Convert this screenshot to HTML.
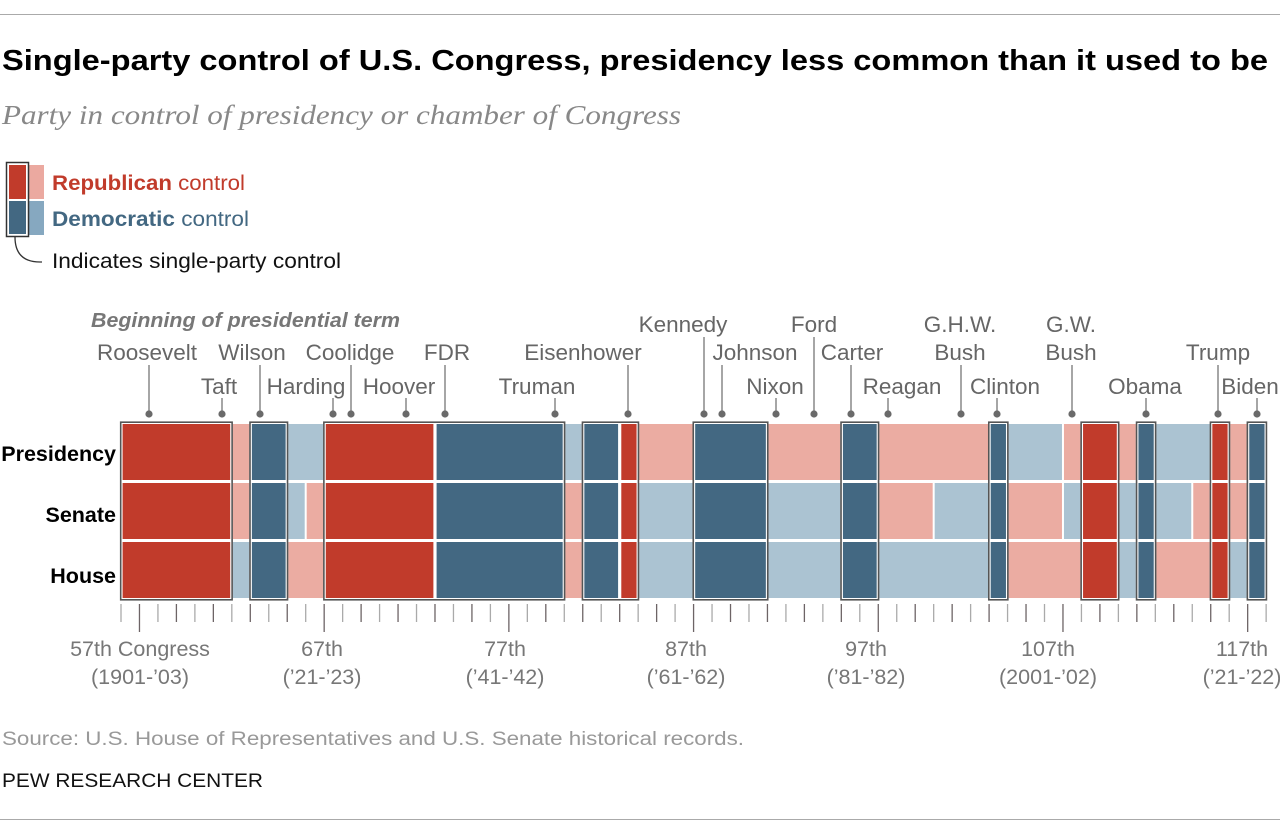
<!DOCTYPE html>
<html><head><meta charset="utf-8"><style>
html,body{margin:0;padding:0;background:#fff;}
svg{display:block;font-family:"Liberation Sans",sans-serif;}
</style></head><body>
<svg id="s" width="1280" height="834" viewBox="0 0 1280 834" xmlns="http://www.w3.org/2000/svg">
<line x1="0" y1="14.5" x2="1280" y2="14.5" stroke="#aaa" stroke-width="1"/>
<line x1="0" y1="819.5" x2="1280" y2="819.5" stroke="#aaa" stroke-width="1"/>
<text x="2" y="70" font-size="29" font-weight="bold" fill="#000" textLength="1266" lengthAdjust="spacingAndGlyphs">Single-party control of U.S. Congress, presidency less common than it used to be</text>
<text x="2" y="124" font-size="27" font-style="italic" fill="#888" font-family="Liberation Serif, serif" textLength="679" lengthAdjust="spacingAndGlyphs">Party in control of presidency or chamber of Congress</text>

<!-- legend -->
<rect x="9" y="165" width="17" height="34" fill="#c13b2b"/>
<rect x="28" y="165" width="16" height="34" fill="#eba9a0"/>
<rect x="9" y="201" width="17" height="33" fill="#436882"/>
<rect x="28" y="201" width="16" height="34" fill="#86a8c0"/>
<rect x="6.5" y="162.5" width="22" height="74" fill="none" stroke="#333" stroke-width="1.5"/>
<path d="M15 237 Q15 262 40 262 L42 262" fill="none" stroke="#333" stroke-width="1.3"/>
<text x="52" y="190" font-size="21" textLength="193" lengthAdjust="spacingAndGlyphs"><tspan font-weight="bold" fill="#c13b2b">Republican</tspan><tspan fill="#c13b2b"> control</tspan></text>
<text x="52" y="226" font-size="21" textLength="197" lengthAdjust="spacingAndGlyphs"><tspan font-weight="bold" fill="#436882">Democratic</tspan><tspan fill="#436882"> control</tspan></text>
<text x="52" y="268" font-size="21" fill="#111" textLength="289" lengthAdjust="spacingAndGlyphs">Indicates single-party control</text>

<text x="91" y="327" font-size="20" font-weight="bold" font-style="italic" fill="#777" textLength="309" lengthAdjust="spacingAndGlyphs">Beginning of presidential term</text>

<g id="rowlabels" font-size="21.5" font-weight="bold" fill="#000" text-anchor="end">
<text x="116" y="461">Presidency</text>
<text x="116" y="522">Senate</text>
<text x="116" y="583">House</text>
</g>

<g id="chart"></g>
<g id="pres" font-size="22.5" fill="#666" text-anchor="middle">
<text x="147" y="360">Roosevelt</text>
<text x="219" y="394">Taft</text>
<text x="252" y="360">Wilson</text>
<text x="306" y="394">Harding</text>
<text x="350" y="360">Coolidge</text>
<text x="399" y="394">Hoover</text>
<text x="447" y="360">FDR</text>
<text x="537" y="394">Truman</text>
<text x="583" y="360">Eisenhower</text>
<text x="683" y="332">Kennedy</text>
<text x="755" y="360">Johnson</text>
<text x="775" y="394">Nixon</text>
<text x="814" y="332">Ford</text>
<text x="852" y="360">Carter</text>
<text x="902" y="394">Reagan</text>
<text x="960" y="332">G.H.W.</text>
<text x="960" y="360">Bush</text>
<text x="1005" y="394">Clinton</text>
<text x="1071" y="332">G.W.</text>
<text x="1071" y="360">Bush</text>
<text x="1145" y="394">Obama</text>
<text x="1218" y="360">Trump</text>
<text x="1250" y="394">Biden</text>
</g>

<g font-size="21.5" fill="#777" text-anchor="middle">
<text x="140" y="656">57th Congress</text><text x="140" y="684">(1901-’03)</text>
<text x="322" y="656">67th</text><text x="322" y="684">(’21-’23)</text>
<text x="505" y="656">77th</text><text x="505" y="684">(’41-’42)</text>
<text x="686" y="656">87th</text><text x="686" y="684">(’61-’62)</text>
<text x="866" y="656">97th</text><text x="866" y="684">(’81-’82)</text>
<text x="1048" y="656">107th</text><text x="1048" y="684">(2001-’02)</text>
<text x="1242" y="656">117th</text><text x="1242" y="684">(’21-’22)</text>
</g>
<text x="2" y="745" font-size="19" fill="#999" textLength="742" lengthAdjust="spacingAndGlyphs">Source: U.S. House of Representatives and U.S. Senate historical records.</text>
<text x="2" y="787" font-size="19" fill="#111" textLength="261" lengthAdjust="spacingAndGlyphs">PEW RESEARCH CENTER</text>
</svg>
<script>
(function(){
var NS="http://www.w3.org/2000/svg",g=document.getElementById("chart");
var C={R:"#c13b2b",r:"#ebaca2",D:"#436882",d:"#abc3d2"};
var X0=121,U=18.47;
function X(t){return X0+U*t;}
function el(n,a){var e=document.createElementNS(NS,n);for(var k in a)e.setAttribute(k,a[k]);g.appendChild(e);return e;}
var S=[[0,6,"R","R","R",1],[6,7,"r","r","d",0],[7,9,"D","D","D",2],[9,10,"d","d","r",0],[10,11,"d","r","r",0],
[11,17,"R","R","R",3],[17,24,"D","D","D",3],[24,25,"d","r","r",0],[25,27,"D","D","D",4],[27,28,"R","R","R",4],
[28,31,"r","d","d",0],[31,35,"D","D","D",5],[35,39,"r","d","d",0],[39,41,"D","D","D",6],[41,44,"r","r","d",0],
[44,47,"r","d","d",0],[47,48,"D","D","D",7],[48,51,"d","r","r",0],[51,52,"r","d","r",0],[52,54,"R","R","R",8],
[54,55,"r","d","d",0],[55,56,"D","D","D",9],[56,58,"d","d","r",0],[58,59,"d","r","r",0],[59,60,"R","R","R",10],
[60,61,"r","r","d",0],[61,62,"D","D","D",11]];
var rows=[[424,56],[483,56],[542,56]];
for(var r=0;r<3;r++){
  var runs=[];
  S.forEach(function(s){
    var c=s[2+r],last=runs[runs.length-1];
    if(last&&last.c===c&&last.box===s[5]&&last.b===s[0])last.b=s[1];
    else runs.push({a:s[0],b:s[1],c:c,box:s[5]});
  });
  runs.forEach(function(q){
    var ins=q.box?1.6:1;
    el("rect",{x:X(q.a)+ins,y:rows[r][0],width:X(q.b)-X(q.a)-2*ins,height:rows[r][1],fill:C[q.c]});
  });
}
var boxes={};
S.forEach(function(s){if(s[5]){var b=boxes[s[5]];if(!b)boxes[s[5]]={a:s[0],b:s[1]};else b.b=s[1];}});
for(var k in boxes){var b=boxes[k];
  el("rect",{x:X(b.a)-0.3,y:422.2,width:X(b.b)-X(b.a)+0.6,height:177.6,fill:"none",stroke:"#555","stroke-width":1.6});}
for(var i=0;i<=62;i++){
  var major=(i%10===1);
  el("line",{x1:X(i),y1:604,x2:X(i),y2:major?632:622,stroke:(i%2?"#6d6466":"#aaa"),"stroke-width":1.3});
}
var L=[[149,365],[222,398],[260,365],[333,398],[351,365],[406,398],[445,365],[555,398],[628,365],
[704,337],[722,365],[776,398],[814,337],[851,365],[888,398],[961,365],[997,398],[1072,365],[1146,398],[1218,365],[1257,398]];
L.forEach(function(p){
  el("line",{x1:p[0],y1:p[1],x2:p[0],y2:414,stroke:"#777","stroke-width":1.3});
  el("circle",{cx:p[0],cy:414,r:3.6,fill:"#6a6a6a"});
});
})();
</script>
</body></html>
